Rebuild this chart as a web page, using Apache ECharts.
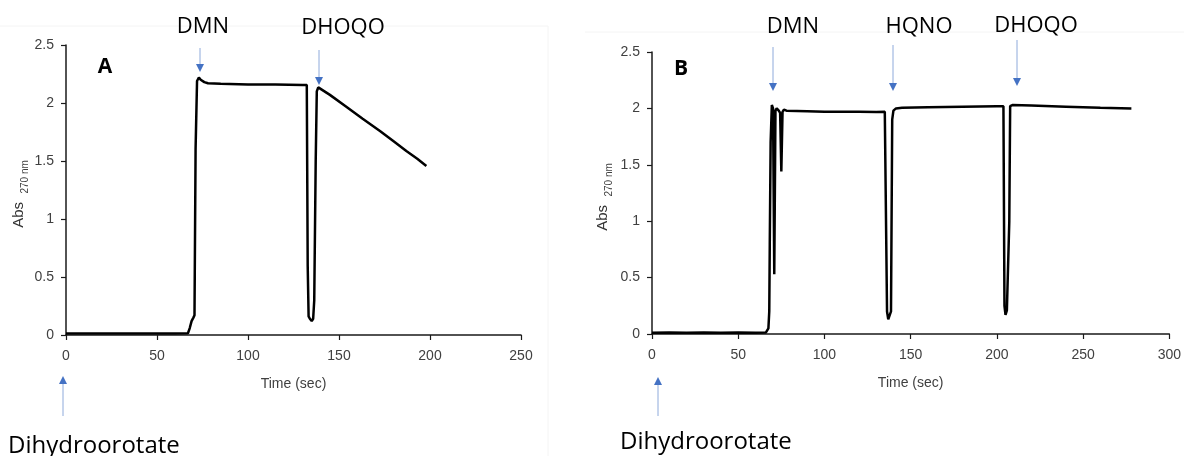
<!DOCTYPE html>
<html><head><meta charset="utf-8">
<script src="https://cdn.jsdelivr.net/npm/echarts@6/dist/echarts.min.js"></script>
<style>html,body{margin:0;padding:0;background:#fff}#c{width:1184px;height:456px}</style>
</head><body><div id="c"></div>
<script>
// Panel A trace (time in sec, absorbance at 270 nm)
const timeA = [0,10,20,30,40,50,60,67,68,69,70,70.6,71.2,72,73,74,76,78,85,100,115,130,132.3,132.8,133.3,134,135,135.8,136.4,137.2,137.8,138.6,145,154,163,172.5,180,187,193,198];
const absA  = [0.012,0.012,0.013,0.012,0.013,0.012,0.013,0.015,0.06,0.12,0.15,0.17,1.6,2.19,2.22,2.2,2.18,2.17,2.165,2.16,2.16,2.155,2.155,0.6,0.16,0.14,0.12,0.14,0.3,1.5,2.1,2.135,2.07,1.968,1.865,1.759,1.67,1.586,1.52,1.457];
// Panel B trace
const timeB = [0,10,20,30,40,50,60,66,67,67.5,68,68.3,68.8,69.5,70.2,70.9,71.6,72.3,73.5,74.3,75,75.7,76.5,78,90,100,110,120,130,135,135.6,136.3,137,138,138.6,139.3,140,141.5,145,160,180,200,203.8,204.4,205,205.8,206.5,207.2,207.7,209,220,240,260,278];
const absB  = [0.012,0.013,0.012,0.013,0.012,0.013,0.012,0.013,0.015,0.05,0.2,0.8,1.7,2.03,2.0,0.53,1.98,2.0,1.98,1.96,1.44,1.97,1.99,1.98,1.975,1.97,1.97,1.97,1.968,1.97,1.96,0.2,0.13,0.13,0.2,1.9,1.98,2.0,2.005,2.01,2.015,2.02,2.02,0.25,0.17,0.21,0.22,1.0,2.02,2.03,2.025,2.015,2.005,2.0];
// Axis ranges / tick steps
const xMaxA = 250, xMaxB = 300, xStep = 50;
const yMax = 2.5, yStep = 0.5;
// Annotation texts
const panelLabels = ['A','B'];
const inhibitorsA = ['DMN','DHOQO'];
const inhibitorsB = ['DMN','HQNO','DHOQO'];
const substrate = 'Dihydroorotate';

const FONT = "'Liberation Sans Narrow','Liberation Sans',sans-serif";
const AFONT = "'Open Sans','Noto Sans',sans-serif";
const axisCol = '#1a1a1a', labCol = '#404040';

function xAxis(idx, max){
  return {gridIndex: idx, type:'value', min:0, max:max, interval:xStep,
    name:'Time (sec)', nameLocation:'middle', nameGap:42,
    nameTextStyle:{color:labCol, fontFamily:FONT, fontSize:14},
    axisLine:{show:true, onZero:false, lineStyle:{color:axisCol, width:1.5}},
    axisTick:{show:true, length:5, lineStyle:{color:axisCol, width:1.2}},
    axisLabel:{color:labCol, fontFamily:FONT, fontSize:14, margin:14},
    splitLine:{show:false}};
}
function yAxis(idx, gap){
  return {gridIndex: idx, type:'value', min:0, max:yMax, interval:yStep,
    name:'{a|Abs  }{b|270 nm}', nameLocation:'middle', nameGap:gap, nameRotate:90,
    nameTextStyle:{padding:[0,8,0,0], rich:{
      a:{fontFamily:FONT, fontSize:15, color:'#333', verticalAlign:'bottom', lineHeight:19, padding:[0,0,4,0]},
      b:{fontFamily:FONT, fontSize:10, color:labCol, verticalAlign:'bottom', lineHeight:19}}},
    axisLine:{show:true, lineStyle:{color:axisCol, width:1.5}},
    axisTick:{show:true, length:5, lineStyle:{color:axisCol, width:1.2}},
    axisLabel:{color:labCol, fontFamily:FONT, fontSize:14, margin:12},
    splitLine:{show:false}};
}

function downArrow(x, y1, y2){
  return [
    {type:'line', shape:{x1:x, y1:y1, x2:x, y2:y2-7}, style:{stroke:'#8eaadb', lineWidth:1}},
    {type:'polygon', shape:{points:[[x-4,y2-8],[x+4,y2-8],[x,y2]]}, style:{fill:'#4472c4'}}
  ];
}
function upArrow(x, y1, y2){
  return [
    {type:'line', shape:{x1:x, y1:y1+7, x2:x, y2:y2}, style:{stroke:'#8eaadb', lineWidth:1}},
    {type:'polygon', shape:{points:[[x-4,y1+8],[x+4,y1+8],[x,y1]]}, style:{fill:'#4472c4'}}
  ];
}
function txt(s, x, y, size, weight, align){
  return {type:'text', x:x, y:y, style:{text:s, fill:'#000', font:(weight||'normal')+' '+size+'px '+AFONT, textAlign:align||'center', textVerticalAlign:'middle'}};
}

const graphics = [].concat(
  [{type:'line', shape:{x1:0,y1:26,x2:548,y2:26}, style:{stroke:'#f4f4f4', lineWidth:1}},
   {type:'line', shape:{x1:548,y1:26,x2:548,y2:456}, style:{stroke:'#f4f4f4', lineWidth:1}},
   {type:'line', shape:{x1:585,y1:32,x2:1184,y2:32}, style:{stroke:'#f4f4f4', lineWidth:1}}],
  [txt(panelLabels[0],105,67,21,'bold'), txt(panelLabels[1],681,69,21,'bold')],
  [txt(inhibitorsA[0],203,27,22), txt(inhibitorsA[1],343,28,22)],
  [txt(inhibitorsB[0],793,27,22), txt(inhibitorsB[1],919,27,22), txt(inhibitorsB[2],1036,26,22)],
  downArrow(200,48,72), downArrow(319,50,85),
  downArrow(773,47,91), downArrow(893,45,91), downArrow(1017,40,86),
  upArrow(63,376,416), upArrow(658,377,416),
  [txt(substrate,8,446,24,'normal','left'), txt(substrate,620,442,24,'normal','left')]
);

const chart = echarts.init(document.getElementById('c'), null, {renderer:'canvas'});
chart.setOption({
  animation:false,
  backgroundColor:'#fff',
  grid:[
    {left:66, right:1184-521, top:45, bottom:456-335},
    {left:652, right:1184-1171, top:52, bottom:456-334}
  ],
  xAxis:[xAxis(0,xMaxA), xAxis(1,xMaxB)],
  yAxis:[yAxis(0,34), yAxis(1,38)],
  series:[
    {type:'line', xAxisIndex:0, yAxisIndex:0, data:timeA.map((t,i)=>[t,absA[i]]), showSymbol:false, lineStyle:{color:'#000', width:2.5}, itemStyle:{color:'#000'}},
    {type:'line', xAxisIndex:1, yAxisIndex:1, data:timeB.map((t,i)=>[t,absB[i]]), showSymbol:false, lineStyle:{color:'#000', width:2.5}, itemStyle:{color:'#000'}}
  ],
  graphic:graphics
});
</script>
</body></html>
